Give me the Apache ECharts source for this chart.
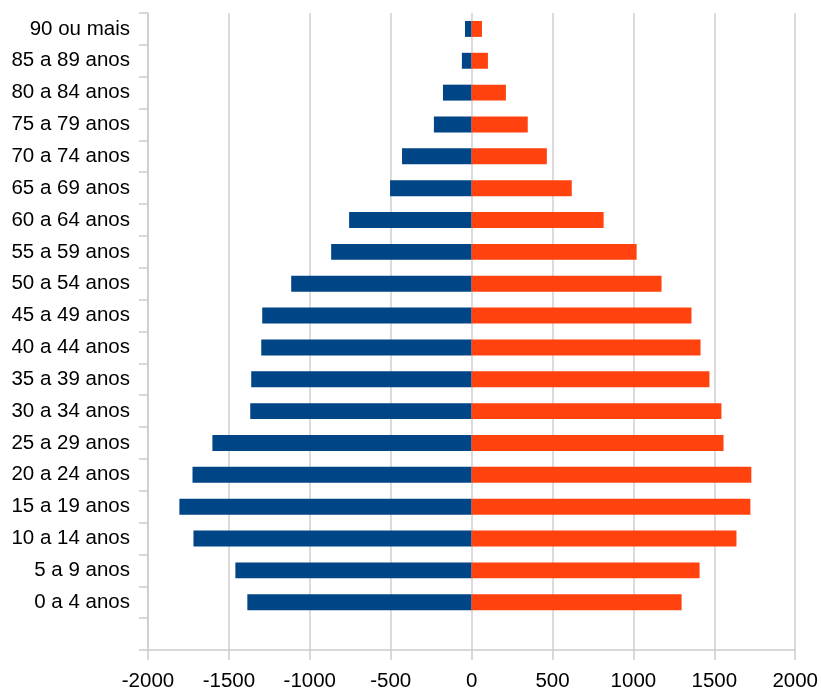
<!DOCTYPE html>
<html>
<head>
<meta charset="utf-8">
<script src="https://cdn.jsdelivr.net/npm/echarts@6/dist/echarts.min.js"></script>
<style>
html,body{margin:0;padding:0;background:#fff;}
#chart{width:821px;height:693px;}
</style>
</head>
<body>
<div id="chart"></div>
<script>
const categories = ['', '0 a 4 anos', '5 a 9 anos', '10 a 14 anos', '15 a 19 anos', '20 a 24 anos',
  '25 a 29 anos', '30 a 34 anos', '35 a 39 anos', '40 a 44 anos', '45 a 49 anos', '50 a 54 anos',
  '55 a 59 anos', '60 a 64 anos', '65 a 69 anos', '70 a 74 anos', '75 a 79 anos', '80 a 84 anos',
  '85 a 89 anos', '90 ou mais'];
const homens = [null, -1386, -1460, -1719, -1806, -1725, -1602, -1368, -1362, -1300, -1294, -1115,
  -868, -757, -504, -430, -233, -177, -60, -41];
const mulheres = [null, 1298, 1409, 1637, 1723, 1729, 1557, 1544, 1470, 1415, 1359, 1174,
  1020, 816, 619, 465, 347, 212, 101, 64];
const xTicks = { min: -2000, max: 2000, interval: 500 };

const chart = echarts.init(document.getElementById('chart'));
chart.setOption({
  animation: false,
  textStyle: { fontFamily: 'Liberation Sans, Arial, sans-serif' },
  grid: { left: 148, right: 24, top: 13, bottom: 43, containLabel: false },
  xAxis: {
    type: 'value',
    min: xTicks.min, max: xTicks.max, interval: xTicks.interval,
    axisLine: { show: true, onZero: false, lineStyle: { color: '#cccccc', width: 1.5 } },
    axisTick: { show: true, length: 10, lineStyle: { color: '#cccccc', width: 1.5 } },
    splitLine: { show: true, lineStyle: { color: '#cfcfcf', width: 1.5 } },
    axisLabel: { color: '#000', fontSize: 20.5, margin: 21, fontFamily: 'Liberation Sans',
      formatter: v => String(v) }
  },
  yAxis: {
    type: 'category',
    data: categories,
    axisLine: { show: true, onZero: false, lineStyle: { color: '#cccccc', width: 1.5 } },
    axisTick: { show: true, length: 9, lineStyle: { color: '#cccccc', width: 1.5 } },
    splitLine: { show: false },
    axisLabel: { color: '#000', fontSize: 20.5, margin: 18, fontFamily: 'Liberation Sans' }
  },
  series: [
    { name: 'Homens', type: 'bar', stack: 'p', data: homens, barWidth: '50%',
      itemStyle: { color: '#004586' } },
    { name: 'Mulheres', type: 'bar', stack: 'p', data: mulheres, barWidth: '50%',
      itemStyle: { color: '#ff420e' } }
  ]
});
</script>
</body>
</html>
